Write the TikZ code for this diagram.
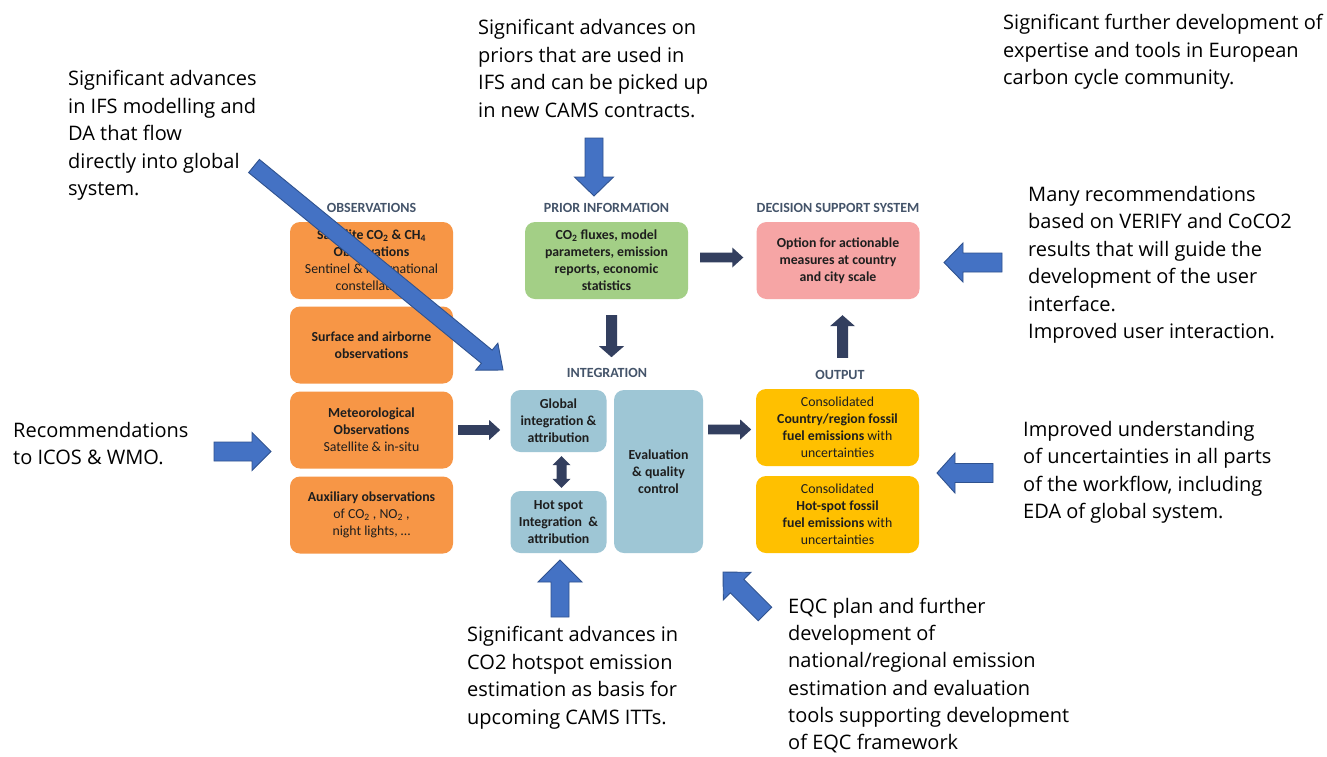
\documentclass[tikz,border=0pt]{standalone}
\usepackage{fontspec}
\setmainfont{Carlito}
\newfontfamily\annfont{Open Sans}
\usetikzlibrary{calc}
\definecolor{obsorange}{HTML}{F79646}
\definecolor{priorgreen}{HTML}{A3CF86}
\definecolor{dsspink}{HTML}{F6A5A5}
\definecolor{intblue}{HTML}{9EC6D5}
\definecolor{outyellow}{HTML}{FFC000}
\definecolor{hdrcol}{HTML}{44546A}
\definecolor{navy}{HTML}{333F5F}
\definecolor{bluefill}{HTML}{4472C4}
\definecolor{blueline}{HTML}{2F528F}
\definecolor{boxtext}{HTML}{1E1E1E}

\newcommand\blockarrow[6]{%
  \path let \p1=(#2), \p2=(#3) in \pgfextra{%
    \pgfmathsetmacro\baang{atan2(\y2-\y1,\x2-\x1)}%
    \pgfmathsetmacro\balen{veclen(\x2-\x1,\y2-\y1)}%
    \pgfmathsetmacro\babase{\balen-#6}%
    \xdef\baang{\baang}\xdef\balen{\balen}\xdef\babase{\babase}%
    \xdef\bax{\x1}\xdef\bay{\y1}};
  \path[#1, shift={(\bax,\bay)}, rotate=\baang]
    (0pt,-#4pt) -- (\babase pt,-#4pt) -- (\babase pt,-#5pt) -- (\balen pt,0pt)
    -- (\babase pt,#5pt) -- (\babase pt,#4pt) -- (0pt,#4pt) -- cycle;
}
\newcommand\dblblockarrow[6]{%
  \path let \p1=(#2), \p2=(#3) in \pgfextra{%
    \pgfmathsetmacro\baang{atan2(\y2-\y1,\x2-\x1)}%
    \pgfmathsetmacro\balen{veclen(\x2-\x1,\y2-\y1)}%
    \pgfmathsetmacro\babase{\balen-#6}%
    \xdef\baang{\baang}\xdef\balen{\balen}\xdef\babase{\babase}%
    \xdef\bax{\x1}\xdef\bay{\y1}};
  \path[#1, shift={(\bax,\bay)}, rotate=\baang]
    (0pt,0pt) -- (#6pt,-#5pt) -- (#6pt,-#4pt) -- (\babase pt,-#4pt) -- (\babase pt,-#5pt) -- (\balen pt,0pt)
    -- (\babase pt,#5pt) -- (\babase pt,#4pt) -- (#6pt,#4pt) -- (#6pt,#5pt) -- cycle;
}

\begin{document}
\begin{tikzpicture}[x=1pt,y=-1pt,
  box/.style={rounded corners=10pt, minimum width=163pt, minimum height=77pt, inner sep=2pt,
    align=center, font=\fontsize{13.8}{17}\selectfont, text=boxtext},
  smallbox/.style={box, minimum width=96pt, minimum height=62pt},
  hdr/.style={font=\bfseries\fontsize{14}{16}\selectfont, text=hdrcol, inner sep=0pt},
  ann/.style={anchor=north west, inner sep=0pt, align=left, text=black,
    font=\annfont\fontsize{20}{27.5}\selectfont},
  navyarrow/.style={fill=navy},
  bluearrow/.style={fill=bluefill, draw=blueline, line width=0.9pt, line join=miter}]
\useasboundingbox (0,0) rectangle (1327,756);
\fill[white] (0,0) rectangle (1327,756);

% headers
\node[hdr] (hobs) at (371.5,208) {OBSERVATIONS};
\node[hdr] (hprior) at (606.5,208) {PRIOR INFORMATION};
\node[hdr] (hdss) at (838,208) {DECISION SUPPORT SYSTEM};
\node[hdr] (hint) at (607,373) {INTEGRATION};
\node[hdr] (hout) at (840,375) {OUTPUT};

% observation boxes
\node[box, fill=obsorange] (sat) at (371.5,260.5)
  {\textbf{Satellite CO\textsubscript{2} \& CH\textsubscript{4}}\\\textbf{Observations}\\Sentinel \& international\\constellation};
\node[box, fill=obsorange] (surf) at (371.5,345)
  {\textbf{Surface and airborne}\\\textbf{observations}};
\node[box, fill=obsorange] (met) at (371.5,430)
  {\textbf{Meteorological}\\\textbf{Observations}\\Satellite \& in-situ};
\node[box, fill=obsorange] (aux) at (371.5,515)
  {\textbf{Auxiliary observations}\\of CO\textsubscript{2} , NO\textsubscript{2} ,\\night lights, \dots};

% prior and DSS
\node[box, fill=priorgreen] (prior) at (606.5,260.5)
  {\textbf{CO\textsubscript{2} fluxes, model}\\\textbf{parameters, emission}\\\textbf{reports, economic}\\\textbf{statistics}};
\node[box, fill=dsspink] (dss) at (838,260.5)
  {\textbf{Option for actionable}\\\textbf{measures at country}\\\textbf{and city scale}};

% integration
\node[smallbox, fill=intblue] (glob) at (558.5,421)
  {\textbf{Global}\\\textbf{integration \&}\\\textbf{attribution}};
\node[smallbox, fill=intblue] (hot) at (558.5,522)
  {\textbf{Hot spot}\\\textbf{Integration~ \&}\\\textbf{attribution}};
\node[box, fill=intblue, minimum width=89pt, minimum height=163pt] (eval) at (658.5,471.5)
  {\textbf{Evaluation}\\\textbf{\& quality}\\\textbf{control}};

% output
\node[box, fill=outyellow] (out1) at (837.5,427.5)
  {Consolidated\\\textbf{Country/region fossil}\\\textbf{fuel emissions} with\\uncertainties};
\node[box, fill=outyellow] (out2) at (837.5,514.5)
  {Consolidated\\\textbf{Hot-spot fossil}\\\textbf{fuel emissions} with\\uncertainties};

% navy arrows
\blockarrow{navyarrow}{$(prior.east)+(12,-3)$}{$(dss.west)+(-13,-3)$}{4.8}{10}{11}
\blockarrow{navyarrow}{$(prior.south)+(5,16)$}{$(prior.south)+(5,58)$}{5.5}{12.5}{11}
\blockarrow{navyarrow}{$(met.east)+(5,0)$}{$(met.east)+(47,0)$}{4.8}{10}{11}
\blockarrow{navyarrow}{$(eval.east)+(5,-42)$}{$(eval.east)+(48,-42)$}{4.8}{10}{11}
\blockarrow{navyarrow}{$(out1.north)+(5,-31)$}{$(dss.south)+(4.5,16)$}{5.5}{12.5}{11}
\dblblockarrow{navyarrow}{$(glob.south)+(3,4)$}{$(hot.north)+(3,-3)$}{5}{9}{9}

% annotations
\node[ann] (a1) at (68,70) {Significant advances\\in IFS modelling and\\DA that flow\\directly into global\\system.};
\node[ann] (a2) at (478,19) {Significant advances on\\priors that are used in\\IFS and can be picked up\\in new CAMS contracts.};
\node[ann] (a3) at (1003,14) {Significant further development of\\expertise and tools in European\\carbon cycle community.};
\node[ann] (a4) at (1028,186) {Many recommendations\\based on VERIFY and CoCO2\\results that will guide the\\development of the user\\interface.\\Improved user interaction.};
\node[ann] (a5) at (1023,421) {Improved understanding\\of uncertainties in all parts\\of the workflow, including\\EDA of global system.};
\node[ann] (a6) at (13,422) {Recommendations\\to ICOS \& WMO.};
\node[ann] (a7) at (467,626) {Significant advances in\\CO2 hotspot emission\\estimation as basis for\\upcoming CAMS ITTs.};
\node[ann, font=\annfont\fontsize{20}{27.2}\selectfont] (a8) at (788,598) {EQC plan and further\\development of\\national/regional emission\\estimation and evaluation\\tools supporting development\\of EQC framework};

% blue arrows
\coordinate (b1s) at (594,138); \coordinate (b1e) at (594,196);
\coordinate (b2s) at (1002,262.5); \coordinate (b2e) at (944,262.5);
\coordinate (b3s) at (993,473); \coordinate (b3e) at (937,473);
\coordinate (b4s) at (214,451.5); \coordinate (b4e) at (271,451.5);
\coordinate (b5s) at (560,617); \coordinate (b5e) at (560,560);
\coordinate (b6s) at (765,614); \coordinate (b6e) at (723,572);
\coordinate (b7s) at (254,166); \coordinate (b7e) at (503,370);
\blockarrow{bluearrow}{b1s}{b1e}{9}{19.5}{19}
\blockarrow{bluearrow}{b2s}{b2e}{9.5}{19.5}{19}
\blockarrow{bluearrow}{b3s}{b3e}{9.5}{20}{18}
\blockarrow{bluearrow}{b4s}{b4e}{9.5}{19}{19}
\blockarrow{bluearrow}{b5s}{b5e}{9}{22}{22}
\blockarrow{bluearrow}{b6s}{b6e}{9.5}{19.5}{20}
\blockarrow{bluearrow}{b7s}{b7e}{8.5}{17.5}{21}
\end{tikzpicture}
\end{document}
